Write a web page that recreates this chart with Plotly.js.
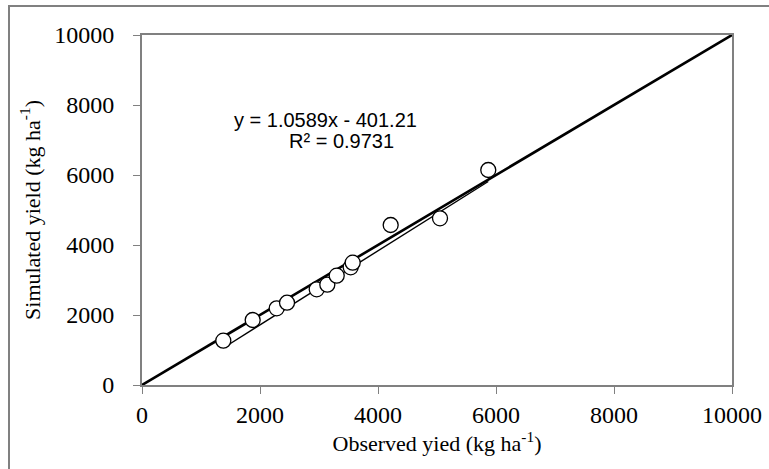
<!DOCTYPE html>
<html>
<head>
<meta charset="utf-8">
<script src="https://cdn.plot.ly/plotly-3.0.1.min.js"></script>
<style>html,body{margin:0;padding:0;background:#fff;}#chart{width:769px;height:469px;}</style>
</head>
<body>
<div id="chart"></div>
<script>
var observed = [1378, 1876, 2283, 2458, 2961, 3141, 3300, 3537, 3571, 4215, 5051, 5869];
var simulated = [1266, 1857, 2191, 2351, 2734, 2866, 3123, 3363, 3494, 4571, 4763, 6143];
var oneToOne = [0, 10000];
var trendSlope = 1.0589;
var trendIntercept = -401.21;
var equationLines = ["y = 1.0589x - 401.21", "R² = 0.9731"];
var tickVals = [0, 2000, 4000, 6000, 8000, 10000];
var tickText = ["0", "2000", "4000", "6000", "8000", "10000"];

var xMin = Math.min.apply(null, observed), xMax = Math.max.apply(null, observed);
var trendX = [xMin, xMax];
var trendY = trendX.map(function (x) { return trendSlope * x + trendIntercept; });

var serif = "'Liberation Serif', 'Times New Roman', serif";
var sans = "'Liberation Sans', Arial, sans-serif";
var data = [
  {x: oneToOne, y: oneToOne, mode: "lines", line: {color: "#000", width: 2.6}, hoverinfo: "skip"},
  {x: trendX, y: trendY, mode: "lines", line: {color: "#000", width: 1.4}, hoverinfo: "skip"},
  {x: observed, y: simulated, mode: "markers",
   marker: {symbol: "circle", size: 15, color: "#fff", line: {color: "#000", width: 1.3}}}
];
function axis(extra) {
  return Object.assign({
    range: [0, 10000], tickmode: "array", tickvals: tickVals, ticktext: tickText,
    ticks: "outside", ticklen: 7, tickwidth: 1, tickcolor: "#808080",
    showline: true, linecolor: "#808080", linewidth: 2, mirror: true, showgrid: false, zeroline: false,
    tickfont: {family: serif, size: 24, color: "#000"}, automargin: false
  }, extra);
}
var layout = {
  width: 769, height: 469,
  margin: {l: 142, r: 37, t: 35, b: 84},
  paper_bgcolor: "#fff", plot_bgcolor: "#fff",
  showlegend: false,
  xaxis: axis({
    ticklabelstandoff: 0,
    title: {text: "Observed yied (kg ha<sup>-1</sup>)", font: {family: serif, size: 22, color: "#000"}, standoff: 0}
  }),
  yaxis: axis({
    ticklabelstandoff: 14,
    title: {text: "Simulated yield (kg ha<sup>-1</sup>)", font: {family: serif, size: 22, color: "#000"}, standoff: 8}
  }),
  annotations: [
    {xref: "x", yref: "y", x: 3110, y: 7572, showarrow: false, text: equationLines[0],
     font: {family: sans, size: 20, color: "#000"}},
    {xref: "x", yref: "y", x: 3389, y: 6971, showarrow: false, text: equationLines[1],
     font: {family: sans, size: 20, color: "#000"}}
  ],
  shapes: [{
    type: "rect", xref: "paper", yref: "paper",
    x0: -133 / 590, x1: 1.2, y0: -0.5, y1: 1 + 29 / 350,
    line: {color: "#808080", width: 2}
  }]
};
Plotly.newPlot("chart", data, layout, {displayModeBar: false, staticPlot: true});
</script>
</body>
</html>
